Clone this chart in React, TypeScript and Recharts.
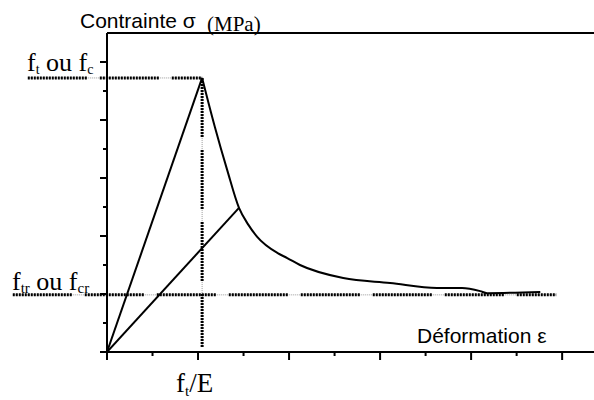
import { LineChart, Line, XAxis, YAxis, ReferenceLine } from 'recharts';

// axis ticks (strain and stress units, unlabelled in the original)
const X_TICKS = [0, 1, 2, 3, 4, 5, 6, 7, 8, 9, 10];
const Y_TICKS = [0, 1, 2, 3, 4, 5, 6, 7, 8, 9, 10];

// peak (f_t / f_c at f_t/E) and residual strength (f_tr / f_cr)
const PEAK_X = 2.09;
const PEAK_Y = 9.45;
const RESIDUAL_Y = 1.97;
const RESIDUAL_END_X = 9.87;
const GUIDE_LEFT_PEAK = -1.74;
const GUIDE_LEFT_RESIDUAL = -2.07;
const GUIDE_BOTTOM = 0.14;

// secant line to the unloading point
const SECANT_X = [0, 2.9];
const SECANT_Y = [0, 4.97];

// softening branch after the peak
const SOFT_X = [2.09, 2.37, 2.64, 2.9, 3.1, 3.3, 3.75, 3.96, 4.24, 5.19, 6.22, 7.25, 7.8, 8.2, 8.35, 9.52];
const SOFT_Y = [9.45, 7.76, 6.28, 4.97, 4.4, 3.97, 3.41, 3.24, 3.0, 2.55, 2.38, 2.21, 2.21, 2.1, 2.03, 2.07];

const rise = [{ x: 0, y: 0 }, { x: PEAK_X, y: PEAK_Y }];
const secant = SECANT_X.map((x, i) => ({ x, y: SECANT_Y[i] }));
const softening = SOFT_X.map((x, i) => ({ x, y: SOFT_Y[i] }));

const THICK_DASH = '2 1 '.repeat(20) + '0 12';
const SANS = '"Liberation Sans", Arial, sans-serif';
const SERIF = '"Liberation Serif", "Times New Roman", serif';

function XTick(props: any) {
  const { x, y, payload } = props;
  const len = payload.value % 2 === 0 ? 8 : 4;
  return <line x1={x} x2={x} y1={y} y2={y + len} stroke="#000" strokeWidth={2} />;
}

function YTick(props: any) {
  const { x, y, payload } = props;
  const len = payload.value % 2 === 0 ? 7 : 4;
  return <line x1={x} x2={x - len} y1={y} y2={y} stroke="#000" strokeWidth={2} />;
}

export default function App() {
  const guides = [
    [{ x: GUIDE_LEFT_PEAK, y: PEAK_Y }, { x: PEAK_X, y: PEAK_Y }],
    [{ x: PEAK_X, y: PEAK_Y }, { x: PEAK_X, y: GUIDE_BOTTOM }],
    [{ x: GUIDE_LEFT_RESIDUAL, y: RESIDUAL_Y }, { x: RESIDUAL_END_X, y: RESIDUAL_Y }],
  ];

  return (
    <div style={{ position: 'absolute', left: 0, top: 0, width: 594, height: 400, background: '#fff' }}>
      <LineChart width={594} height={400} margin={{ top: 33, right: 0, left: 97, bottom: 38 }}>
        <XAxis
          type="number"
          dataKey="x"
          domain={[0, 10.7]}
          ticks={X_TICKS}
          allowDataOverflow
          height={10}
          tickSize={0}
          tickMargin={0}
          tickLine={false}
          tick={<XTick />}
          axisLine={{ stroke: '#000', strokeWidth: 2 }}
        />
        <YAxis
          type="number"
          dataKey="y"
          domain={[0, 11]}
          ticks={Y_TICKS}
          allowDataOverflow
          width={10}
          tickSize={0}
          tickMargin={0}
          tickLine={false}
          tick={<YTick />}
          axisLine={{ stroke: '#000', strokeWidth: 2 }}
        />
        <ReferenceLine y={11} stroke="#000" strokeWidth={2} ifOverflow="visible" />
        {guides.map((seg, i) => (
          <ReferenceLine
            key={'thin' + i}
            segment={seg}
            ifOverflow="visible"
            stroke="#999"
            strokeWidth={1}
            strokeDasharray="1 1"
          />
        ))}
        {guides.map((seg, i) => (
          <ReferenceLine
            key={'thick' + i}
            segment={seg}
            ifOverflow="visible"
            stroke="#000"
            strokeWidth={3}
            strokeDasharray={THICK_DASH}
          />
        ))}
        <Line data={rise} dataKey="y" type="linear" stroke="#000" strokeWidth={2} dot={false} activeDot={false} isAnimationActive={false} />
        <Line data={secant} dataKey="y" type="linear" stroke="#000" strokeWidth={2} dot={false} activeDot={false} isAnimationActive={false} />
        <Line data={softening} dataKey="y" type="monotone" stroke="#000" strokeWidth={2} dot={false} activeDot={false} isAnimationActive={false} />
      </LineChart>
      <svg width={594} height={400} style={{ position: 'absolute', left: 0, top: 0, pointerEvents: 'none' }}>
        <text x={80} y={28} fontFamily={SANS} fontSize={21}>Contrainte σ</text>
        <text x={207} y={31} fontFamily={SERIF} fontSize={21}>(MPa)</text>
        <text x={27} y={71} fontFamily={SERIF} fontSize={26}>
          f<tspan fontSize={14} dy={3}>t</tspan>
          <tspan dy={-3}> ou f</tspan>
          <tspan fontSize={14} dy={3}>c</tspan>
        </text>
        <text x={12} y={290} fontFamily={SERIF} fontSize={26}>
          f<tspan fontSize={15} dy={3}>tr</tspan>
          <tspan dy={-3}> ou f</tspan>
          <tspan fontSize={15} dy={3}>cr</tspan>
        </text>
        <text x={176} y={392} fontFamily={SERIF} fontSize={27}>
          f<tspan fontSize={15} dy={4}>t</tspan>
          <tspan dy={-4}>/E</tspan>
        </text>
        <text x={417} y={343} fontFamily={SANS} fontSize={21}>Déformation ε</text>
      </svg>
    </div>
  );
}
